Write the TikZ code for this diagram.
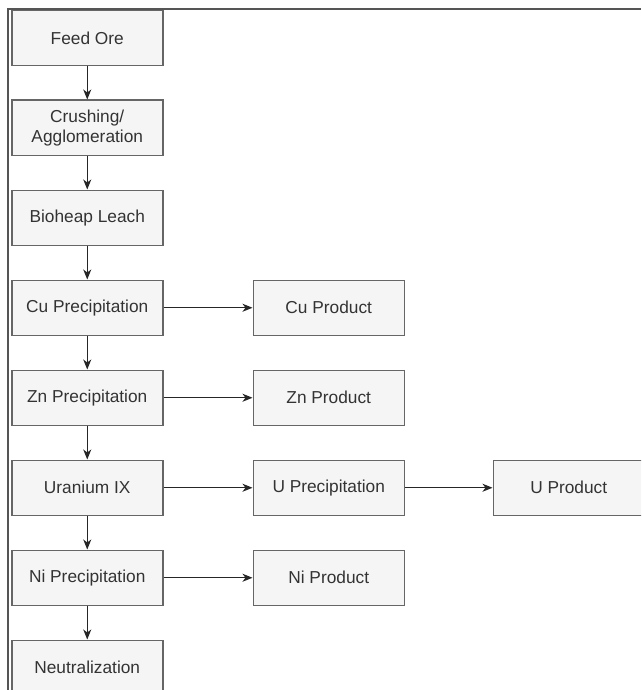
\documentclass[tikz,border=0pt]{standalone}
\usepackage{fontspec}
\setmainfont{Liberation Sans}
\usetikzlibrary{arrows.meta}
\definecolor{boxfill}{HTML}{F5F5F5}
\definecolor{boxline}{HTML}{666666}
\definecolor{txt}{HTML}{333333}
\definecolor{framec}{HTML}{555555}
\begin{document}
\begin{tikzpicture}[x=1pt,y=-1pt,
  stepbox/.style={draw=boxline,fill=boxfill,line width=1.5pt,minimum width=151pt,minimum height=55pt,inner sep=0pt,align=center,text=txt,font=\fontsize{17.3}{20}\selectfont,anchor=north west},
  flow/.style={draw=black!85,line width=1.3pt,-{Stealth[length=10pt,width=8pt,inset=3pt]}}]
\useasboundingbox (0,0) rectangle (641,690);
\clip (0,0) rectangle (641,690);
\draw[framec,line width=2pt] (7.5,690) -- (7.5,9) -- (641,9);
\node[stepbox] (feed) at (11,10) {Feed Ore};
\node[stepbox] (crush) at (11,99.5) {Crushing/\\Agglomeration};
\node[stepbox] (bio) at (11,189.5) {Bioheap Leach};
\node[stepbox] (cu) at (11,279.5) {Cu Precipitation};
\node[stepbox] (zn) at (11,369.5) {Zn Precipitation};
\node[stepbox] (uix) at (11,459.5) {Uranium IX};
\node[stepbox] (ni) at (11,549.5) {Ni Precipitation};
\node[stepbox] (neut) at (11,639.5) {Neutralization};
\node[stepbox] (cup) at (252.5,279.5) {Cu Product};
\node[stepbox] (znp) at (252.5,369.5) {Zn Product};
\node[stepbox] (up) at (252.5,459.5) {U Precipitation};
\node[stepbox] (uprod) at (492.5,459.5) {U Product};
\node[stepbox] (nip) at (252.5,549.5) {Ni Product};
\draw[flow] (feed) -- (crush);
\draw[flow] (crush) -- (bio);
\draw[flow] (bio) -- (cu);
\draw[flow] (cu) -- (zn);
\draw[flow] (zn) -- (uix);
\draw[flow] (uix) -- (ni);
\draw[flow] (ni) -- (neut);
\draw[flow] (cu) -- (cup);
\draw[flow] (zn) -- (znp);
\draw[flow] (uix) -- (up);
\draw[flow] (up) -- (uprod);
\draw[flow] (ni) -- (nip);
\end{tikzpicture}
\end{document}
